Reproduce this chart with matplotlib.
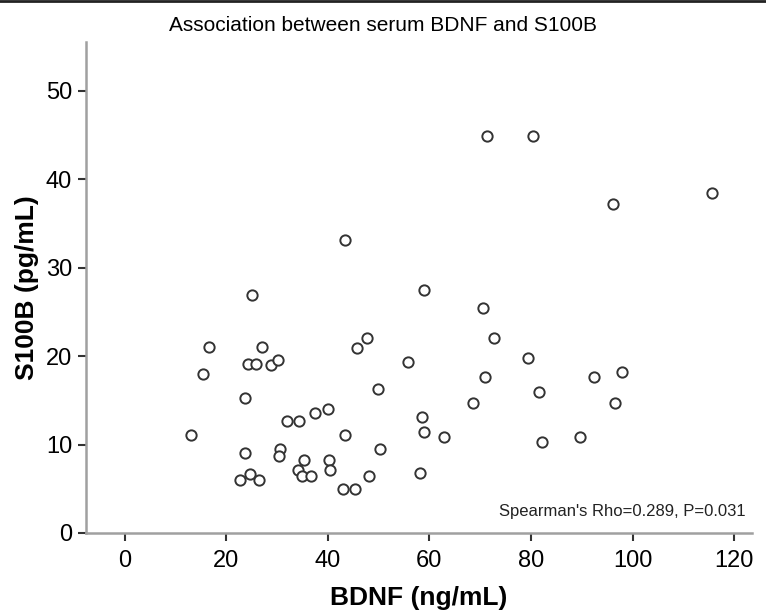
import matplotlib.pyplot as plt
from matplotlib.lines import Line2D

plt.rcParams['font.family'] = ['Liberation Sans', 'DejaVu Sans']

# BDNF (ng/mL) and S100B (pg/mL)
bdnf = [16.7, 27.1, 24.2, 25.8, 28.9, 30.1, 15.4, 23.6, 31.9, 34.4,
        37.4, 40.0, 13.0, 23.6, 30.5, 30.3, 35.4, 40.2, 34.1, 35.0,
        36.7, 40.5, 22.7, 24.6, 26.5, 43.0, 45.3, 47.8, 45.7, 55.8,
        49.9, 72.7, 79.5, 70.9, 81.5, 68.6, 58.6, 58.9, 62.8, 82.1,
        43.4, 50.3, 48.2, 58.1, 92.4, 98.0, 96.6, 89.7, 43.3, 25.0,
        58.9, 71.3, 80.3, 96.1, 115.7, 70.5]
s100b = [21.0, 21.0, 19.1, 19.1, 19.0, 19.6, 18.0, 15.3, 12.7, 12.7,
         13.6, 14.0, 11.1, 9.0, 9.5, 8.7, 8.3, 8.3, 7.1, 6.4,
         6.4, 7.1, 6.0, 6.7, 6.0, 5.0, 5.0, 22.0, 20.9, 19.3,
         16.3, 22.0, 19.8, 17.6, 15.9, 14.7, 13.1, 11.4, 10.9, 10.3,
         11.1, 9.5, 6.4, 6.8, 17.6, 18.2, 14.7, 10.9, 33.1, 26.9,
         27.5, 44.9, 44.9, 37.2, 38.4, 25.4]
x_ticks = [0, 20, 40, 60, 80, 100, 120]
y_ticks = [0, 10, 20, 30, 40, 50]
stat_text = "Spearman's Rho=0.289, P=0.031"

fig = plt.figure(figsize=(7.66, 6.11), dpi=100)
ax = fig.add_axes([0.1123, 0.1277, 0.8694, 0.8036])

ax.scatter(bdnf, s100b, s=55, facecolors='white', edgecolors='#333333',
           linewidths=1.4, zorder=3)

ax.set_xlim(-7.6, 123.5)
ax.set_ylim(0, 55.5)
ax.set_xticks(x_ticks)
ax.set_yticks(y_ticks)

for side in ['top', 'right']:
    ax.spines[side].set_visible(False)
for side in ['left', 'bottom']:
    ax.spines[side].set_color('#a0a0a0')
    ax.spines[side].set_linewidth(1.8)

ax.tick_params(axis='both', direction='out', length=6, width=1.5,
               color='#333333', labelsize=17, labelcolor='black', pad=4)
ax.tick_params(axis='x', pad=6)

ax.set_xlabel('BDNF (ng/mL)', fontsize=19, fontweight='bold', labelpad=10)
ax.set_ylabel('S100B (pg/mL)', fontsize=19, fontweight='bold', labelpad=5)

fig.text(0.5, 0.958, 'Association between serum BDNF and S100B',
         ha='center', va='center', fontsize=15)
ax.text(0.99, 0.028, stat_text, transform=ax.transAxes, ha='right',
        va='bottom', fontsize=12, color='#222222')

fig.add_artist(Line2D([0, 1], [0.998, 0.998], color='#222222', linewidth=2,
                      transform=fig.transFigure))

plt.savefig('out.png', dpi=100)
